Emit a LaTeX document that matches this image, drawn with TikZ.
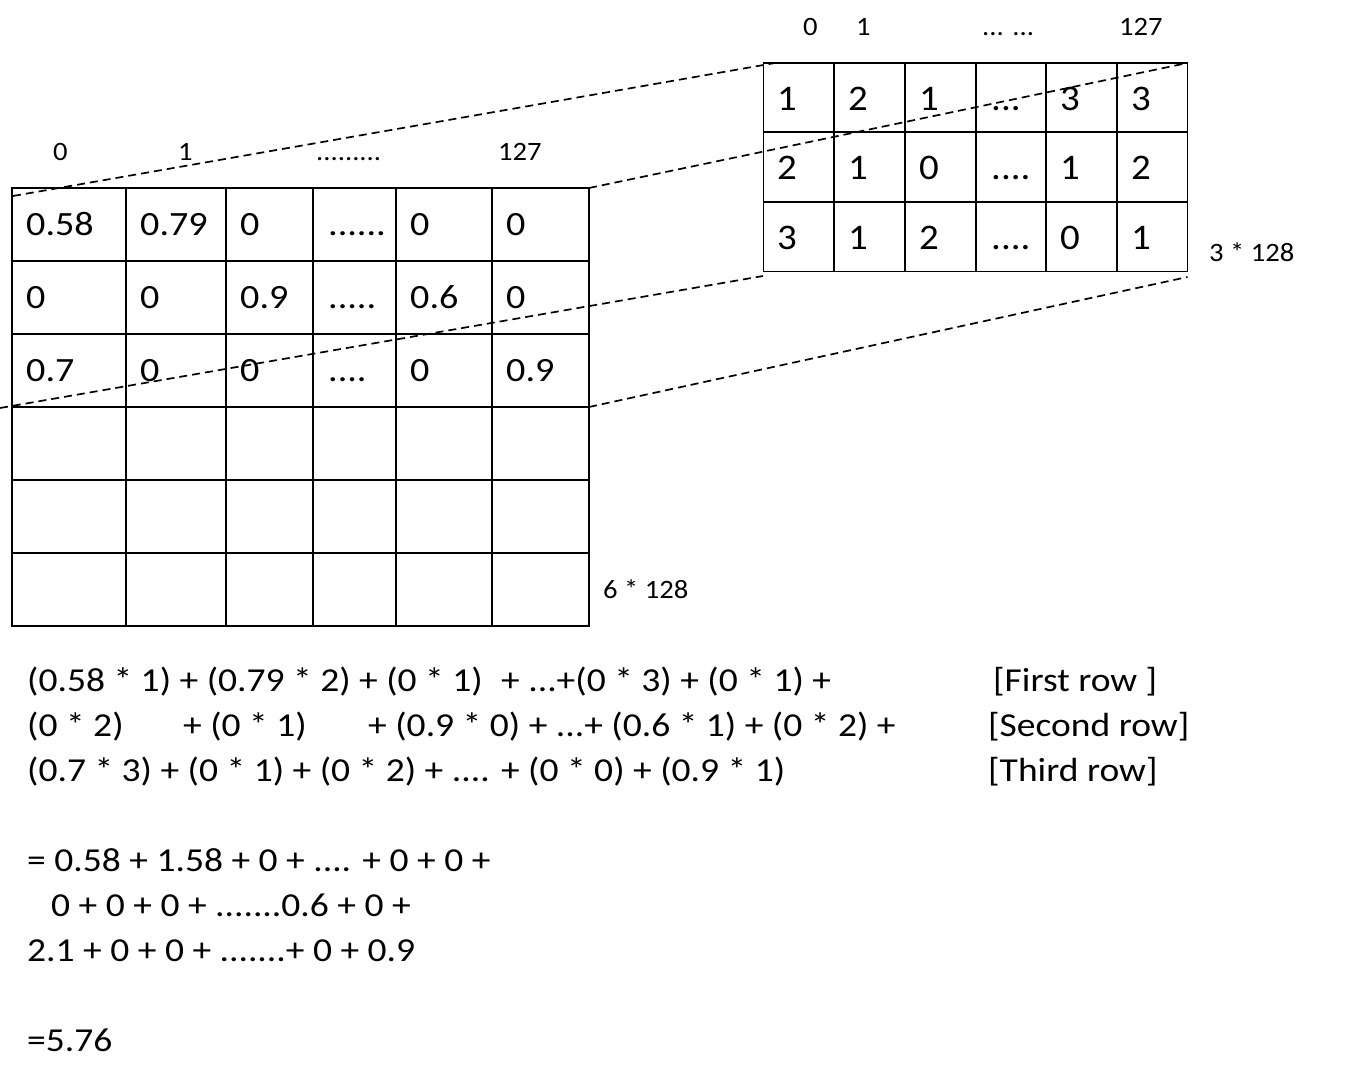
\documentclass[tikz,border=0pt]{standalone}
\usepackage{fontspec}
\setmainfont{Carlito}[FakeStretch=1.08]
\newfontfamily\widefont{Carlito}[FakeStretch=1.12]
\begin{document}
\begin{tikzpicture}[x=1pt,y=-1pt,
  gridline/.style={line width=1.8pt, line cap=rect},
  dashline/.style={line width=1.7pt, dash pattern=on 8pt off 5pt},
  cellA/.style={font=\widefont\fontsize{34}{40}\selectfont, anchor=base west, inner sep=0pt},
  cellB/.style={font=\fontsize{36}{42}\selectfont, anchor=base west, inner sep=0pt},
  head/.style={font=\fontsize{26.5}{32}\selectfont, anchor=base west, inner sep=0pt},
  eq/.style={font=\widefont\fontsize{33.5}{40}\selectfont, anchor=base west, inner sep=0pt}]
\useasboundingbox (0,0) rectangle (1365,1076);
% big grid
\foreach \x in {12,126,226,313,396,492,589} \draw[gridline] (\x,188) -- (\x,626);
\foreach \y in {188,261,334,407,480,553,626} \draw[gridline] (12,\y) -- (589,\y);
% small grid
\foreach \x in {763.5,834,905,976,1046,1117,1187.5} \draw[gridline] (\x,63) -- (\x,271.5);
\foreach \y in {63,132.3,202.3,271.5} \draw[gridline] (763.5,\y) -- (1187.5,\y);
% dashed projection lines
\coordinate (A1) at (13,196);
\coordinate (A2) at (775,63);
\coordinate (B1) at (589,188);
\coordinate (B2) at (1187.5,63);
\coordinate (C1) at (0,408);
\coordinate (C2) at (763,276);
\coordinate (D1) at (589,407);
\coordinate (D2) at (1187.5,277);
\draw[dashline] (A1) -- (A2);
\draw[dashline] (B1) -- (B2);
\draw[dashline] (C1) -- (C2);
\draw[dashline] (D1) -- (D2);
% big grid headers
\node[head] (h0) at (53,160) {0};
\node[head] (h1) at (178,160) {1};
\node[head] (hd) at (316,160) {.........};
\node[head] (h127) at (498,160) {127};
% small grid headers
\node[head] (s0) at (803,35) {0};
\node[head] (s1) at (856,35) {1};
\node[head] (sd) at (982,35) {... ...};
\node[head] (s127) at (1119,35) {127};
% size labels
\node[head] (sz3) at (1209,261.5) {3 * 128};
\node[head] (sz6) at (603,598) {6 * 128};
% big grid cells
\node[cellA] (a11) at (26,235) {0.58};
\node[cellA] (a12) at (140,235) {0.79};
\node[cellA] (a13) at (240,235) {0};
\node[cellA] (a14) at (328,235) {......};
\node[cellA] (a15) at (410,235) {0};
\node[cellA] (a16) at (506,235) {0};
\node[cellA] (a21) at (26,308) {0};
\node[cellA] (a22) at (140,308) {0};
\node[cellA] (a23) at (240,308) {0.9};
\node[cellA] (a24) at (328,308) {.....};
\node[cellA] (a25) at (410,308) {0.6};
\node[cellA] (a26) at (506,308) {0};
\node[cellA] (a31) at (26,381) {0.7};
\node[cellA] (a32) at (140,381) {0};
\node[cellA] (a33) at (240,381) {0};
\node[cellA] (a34) at (328,381) {....};
\node[cellA] (a35) at (410,381) {0};
\node[cellA] (a36) at (506,381) {0.9};
% small grid cells
\node[cellB] (b11) at (777,110) {1};
\node[cellB] (b12) at (848,110) {2};
\node[cellB] (b13) at (919,110) {1};
\node[cellB] (b14) at (991,110) {...};
\node[cellB] (b15) at (1060,110) {3};
\node[cellB] (b16) at (1131,110) {3};
\node[cellB] (b21) at (777,179.5) {2};
\node[cellB] (b22) at (848,179.5) {1};
\node[cellB] (b23) at (919,179.5) {0};
\node[cellB] (b24) at (991,179.5) {....};
\node[cellB] (b25) at (1060,179.5) {1};
\node[cellB] (b26) at (1131,179.5) {2};
\node[cellB] (b31) at (777,249) {3};
\node[cellB] (b32) at (848,249) {1};
\node[cellB] (b33) at (919,249) {2};
\node[cellB] (b34) at (991,249) {....};
\node[cellB] (b35) at (1060,249) {0};
\node[cellB] (b36) at (1131,249) {1};
% equations
\node[eq] (e1a) at (27,691) {(0.58 * 1) + (0.79 * 2) + (0 * 1)};
\node[eq] (e1b) at (501,691) {+ ...+(0 * 3) + (0 * 1) +};
\node[eq] (e1c) at (993,691) {[First row ]};
\node[eq] (e2a) at (27,736) {(0 * 2)};
\node[eq] (e2b) at (183,736) {+ (0 * 1)};
\node[eq] (e2c) at (368,736) {+ (0.9 * 0) + ...+ (0.6 * 1) + (0 * 2) +};
\node[eq] (e2d) at (988,736) {[Second row]};
\node[eq] (e3a) at (27,781) {(0.7 * 3) + (0 * 1) + (0 * 2) + .... + (0 * 0) + (0.9 * 1)};
\node[eq] (e3b) at (988,781) {[Third row]};
\node[eq] (r1) at (27,871) {= 0.58 + 1.58 + 0 + .... + 0 + 0 +};
\node[eq] (r2) at (51,916) {0 + 0 + 0 + .......0.6 + 0 +};
\node[eq] (r3) at (27,961) {2.1 + 0 + 0 + .......+ 0 + 0.9};
\node[eq] (r4) at (27,1051) {=5.76};
\end{tikzpicture}
\end{document}
